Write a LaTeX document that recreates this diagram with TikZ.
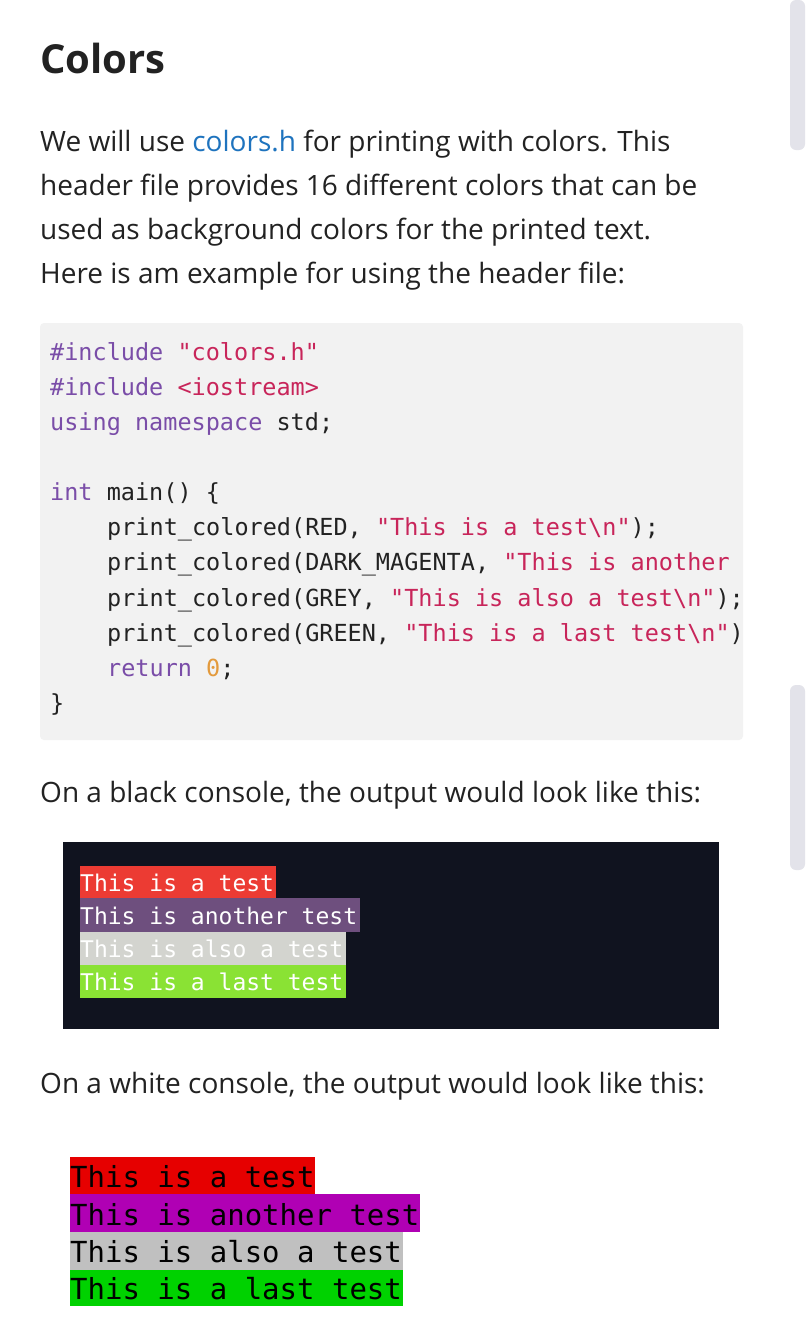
\documentclass[tikz,border=0pt]{standalone}
\usepackage{fontspec}
\setmainfont{Open Sans}
\setmonofont{DejaVu Sans Mono}
\definecolor{bodyc}{HTML}{222222}
\definecolor{linkc}{HTML}{1E73BE}
\definecolor{codebg}{HTML}{F2F2F2}
\definecolor{kw}{HTML}{7A4DA8}
\definecolor{str}{HTML}{C8255A}
\definecolor{num}{HTML}{E39A3C}
\definecolor{cons}{HTML}{10131F}
\definecolor{bR}{HTML}{EC3B33}
\definecolor{bP}{HTML}{6E4F7E}
\definecolor{bG}{HTML}{D3D4CF}
\definecolor{bN}{HTML}{8AE234}
\definecolor{wR}{HTML}{E60000}
\definecolor{wP}{HTML}{B000B4}
\definecolor{wG}{HTML}{C0C0C0}
\definecolor{wN}{HTML}{00D200}
\definecolor{scroll}{HTML}{E3E3EA}
\tikzset{x=1pt,y=-1pt,
 txt/.style={anchor=base west,inner sep=0pt,text=bodyc,font=\fontsize{28}{34}\selectfont},
 code/.style={anchor=base west,inner sep=0pt,text=bodyc,font=\fontsize{23.5}{28}\ttfamily},
 bline/.style={anchor=base west,inner sep=0pt,text=white,font=\fontsize{23}{28}\ttfamily},
 wline/.style={anchor=base west,inner sep=0pt,text=black,font=\fontsize{29}{34}\ttfamily}}
\begin{document}
\begin{tikzpicture}
\useasboundingbox (0,0) rectangle (810,1342);
\fill[white] (0,0) rectangle (810,1342);
\fill[scroll,rounded corners=6] (790,0) rectangle (805,150);
\fill[scroll,rounded corners=6] (790,685) rectangle (805,870);
\node[txt,font=\fontsize{40}{48}\selectfont\bfseries] (h) at (40,73) {Colors};
\node[txt] (p1) at (40,151) {We will use \textcolor{linkc}{colors.h} for printing with colors. This};
\node[txt] (p2) at (40,195) {header file provides 16 different colors that can be};
\node[txt] (p3) at (40,239) {used as background colors for the printed text.};
\node[txt] (p4) at (40,283) {Here is am example for using the header file:};
\fill[codebg,rounded corners=4] (40,323) rectangle (743,740);
\node[code] (c1) at (50,360) {\textcolor{kw}{\#include} \textcolor{str}{"colors.h"}};
\node[code] (c2) at (50,395) {\textcolor{kw}{\#include} \textcolor{str}{<iostream>}};
\node[code] (c3) at (50,430) {\textcolor{kw}{using namespace} std;};
\node[code] (c4) at (50,500) {\textcolor{kw}{int} main() \{};
\node[code] (c5) at (107,535) {print\_colored(RED, \textcolor{str}{"This is a test\textbackslash n"});};
\node[code] (c6) at (107,570) {print\_colored(DARK\_MAGENTA, \textcolor{str}{"This is another}};
\node[code] (c7) at (107,606) {print\_colored(GREY, \textcolor{str}{"This is also a test\textbackslash n"});};
\node[code] (c8) at (107,641) {print\_colored(GREEN, \textcolor{str}{"This is a last test\textbackslash n"})};
\node[code] (c9) at (107,676) {\textcolor{kw}{return} \textcolor{num}{0};};
\node[code] (c10) at (50,711) {\}};
\node[txt] (p5) at (40,802) {On a black console, the output would look like this:};
\fill[cons] (63,842) rectangle (719,1029);
\fill[bR] (80,866) rectangle (276,898);
\fill[bP] (80,898) rectangle (360,932);
\fill[bG] (80,932) rectangle (346,965);
\fill[bN] (80,965) rectangle (346,998);
\node[bline] (b1) at (80,891) {This is a test};
\node[bline] (b2) at (80,924) {This is another test};
\node[bline] (b3) at (80,957) {This is also a test};
\node[bline] (b4) at (80,990) {This is a last test};
\node[txt] (p6) at (40,1093) {On a white console, the output would look like this:};
\fill[wR] (70,1157) rectangle (315,1194);
\fill[wP] (70,1194) rectangle (420,1232);
\fill[wG] (70,1232) rectangle (403,1270);
\fill[wN] (70,1270) rectangle (403,1306);
\node[wline] (w1) at (70,1187) {This is a test};
\node[wline] (w2) at (70,1225) {This is another test};
\node[wline] (w3) at (70,1262) {This is also a test};
\node[wline] (w4) at (70,1299) {This is a last test};
\end{tikzpicture}
\end{document}
